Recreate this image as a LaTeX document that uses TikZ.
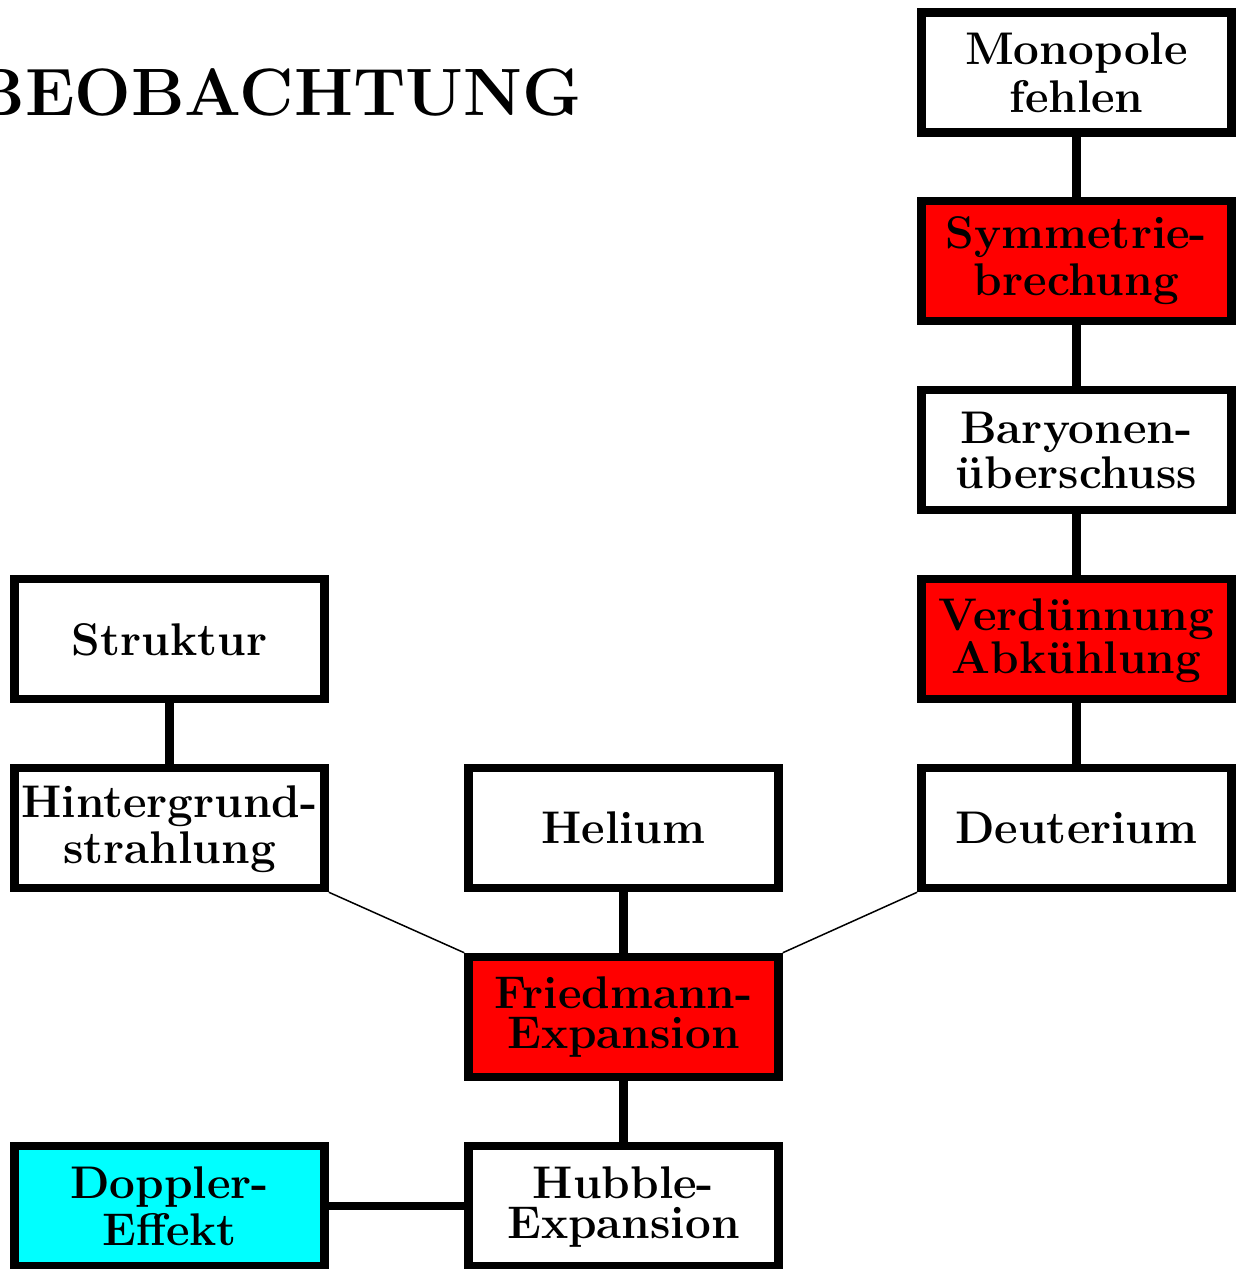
\documentclass[tikz,border=0pt]{standalone}
\usepackage{xcolor}
\definecolor{boxcyan}{RGB}{0,255,255}
\definecolor{boxred}{RGB}{255,0,0}
\newcommand\twolab[4]{\makebox[0pt]{\raisebox{#3pt}[0pt][0pt]{\makebox[0pt]{#1}}\raisebox{#4pt}[0pt][0pt]{\makebox[0pt]{#2}}}}
\newcommand\onelab[2]{\makebox[0pt]{\raisebox{#2pt}[0pt][0pt]{\makebox[0pt]{#1}}}}
\begin{document}
\begin{tikzpicture}[x=1pt,y=-1pt,
  box/.style={draw=black, line width=8.5pt, minimum width=310pt, minimum height=120pt,
    inner sep=0pt, fill=white, font=\fontsize{45.8}{48}\selectfont\bfseries},
  redbox/.style={box, fill=boxred},
  cyanbox/.style={box, fill=boxcyan},
  fatlink/.style={draw=black, line width=8.5pt},
  thinlink/.style={draw=black, line width=1.5pt}]
\useasboundingbox (0,0) rectangle (1237,1269);

\node (title) [anchor=base east, inner sep=0pt, font=\fontsize{67}{70}\selectfont\bfseries] at (582,115) {BEOBACHTUNG};

\node (mono) [box] at (1076.4,72.5) {\twolab{Monopole}{fehlen}{8.5}{-39.5}};
\node (sym) [redbox] at (1076.4,261) {\twolab{Symmetrie-}{brechung}{13}{-34}};
\node (bar) [box] at (1076.4,450) {\twolab{Baryonen-}{überschuss}{7}{-38}};
\node (verd) [redbox] at (1076.4,639) {\twolab{Verdünnung}{Abkühlung}{9}{-34}};
\node (deut) [box] at (1076.4,828) {\onelab{Deuterium}{-15.5}};

\node (strukt) [box] at (169.6,639) {\onelab{Struktur}{-16}};
\node (hint) [box] at (169.6,828) {\twolab{Hintergrund-}{strahlung}{11}{-35}};
\node (doppler) [cyanbox] at (169.6,1206) {\twolab{Doppler-}{Effekt}{8}{-39}};

\node (helium) [box] at (623.5,828) {\onelab{Helium}{-15.5}};
\node (fried) [redbox] at (623.5,1017) {\twolab{Friedmann-}{Expansion}{9}{-31}};
\node (hubble) [box] at (623.5,1206) {\twolab{Hubble-}{Expansion}{8}{-32}};

\draw[fatlink] (mono.south) -- (sym.north);
\draw[fatlink] (sym.south) -- (bar.north);
\draw[fatlink] (bar.south) -- (verd.north);
\draw[fatlink] (verd.south) -- (deut.north);
\draw[fatlink] (strukt.south) -- (hint.north);
\draw[fatlink] (helium.south) -- (fried.north);
\draw[fatlink] (fried.south) -- (hubble.north);
\draw[fatlink] (doppler.east) -- (hubble.west);
\draw[thinlink] (hint.south east) -- (fried.north west);
\draw[thinlink] (deut.south west) -- (fried.north east);
\end{tikzpicture}
\end{document}
